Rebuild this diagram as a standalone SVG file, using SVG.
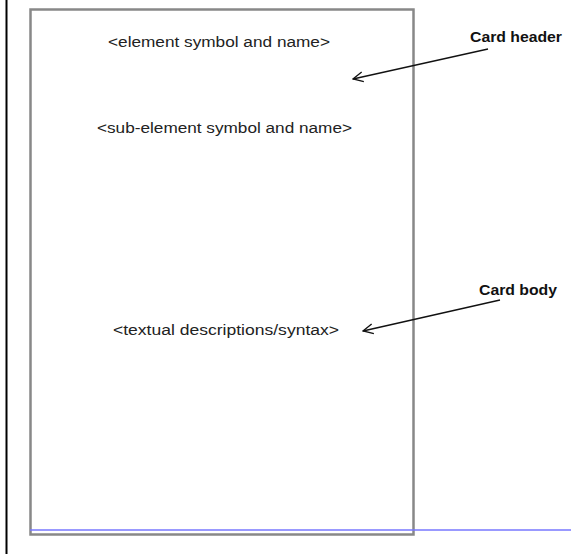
<svg xmlns="http://www.w3.org/2000/svg" width="571" height="554" viewBox="0 0 571 554">
<style>
.t{font-family:"Liberation Sans",Arial,sans-serif;font-size:14px;fill:#222}
.b{font-family:"Liberation Sans",Arial,sans-serif;font-size:14px;font-weight:bold;fill:#111}
.c{stroke:#111;stroke-width:1.3;fill:none}
</style>
<defs>
<marker id="ah" viewBox="0 0 12 12" refX="11" refY="6" markerWidth="12" markerHeight="12" markerUnits="userSpaceOnUse" orient="auto">
<path d="M1,1 L11,6 L1,11" fill="none" stroke="#111" stroke-width="1.3"/>
</marker>
</defs>
<rect width="571" height="554" fill="#fff"/>
<line x1="6.5" y1="0" x2="6.5" y2="554" stroke="#000" stroke-width="2"/>
<g id="card">
<rect x="30.5" y="9.5" width="383" height="525" fill="none" stroke="#888" stroke-width="2.5"/>
<line x1="30" y1="530" x2="571" y2="530" stroke="#7777ff" stroke-width="1.3"/>
</g>
<g id="header-text">
<text class="t" x="108" y="47" textLength="222" lengthAdjust="spacingAndGlyphs">&lt;element symbol and name&gt;</text>
<text class="t" x="97" y="133" textLength="255" lengthAdjust="spacingAndGlyphs">&lt;sub-element symbol and name&gt;</text>
</g>
<g id="body-text">
<text class="t" x="113" y="335" textLength="226" lengthAdjust="spacingAndGlyphs">&lt;textual descriptions/syntax&gt;</text>
</g>
<g id="label-header">
<text class="b" x="470" y="42" textLength="92" lengthAdjust="spacingAndGlyphs">Card header</text>
</g>
<g id="label-body">
<text class="b" x="479" y="295" textLength="78" lengthAdjust="spacingAndGlyphs">Card body</text>
</g>
<g id="connectors">
<line class="c" x1="488" y1="49" x2="353" y2="79" marker-end="url(#ah)"/>
<line class="c" x1="500" y1="300" x2="363" y2="331" marker-end="url(#ah)"/>
</g>
</svg>
